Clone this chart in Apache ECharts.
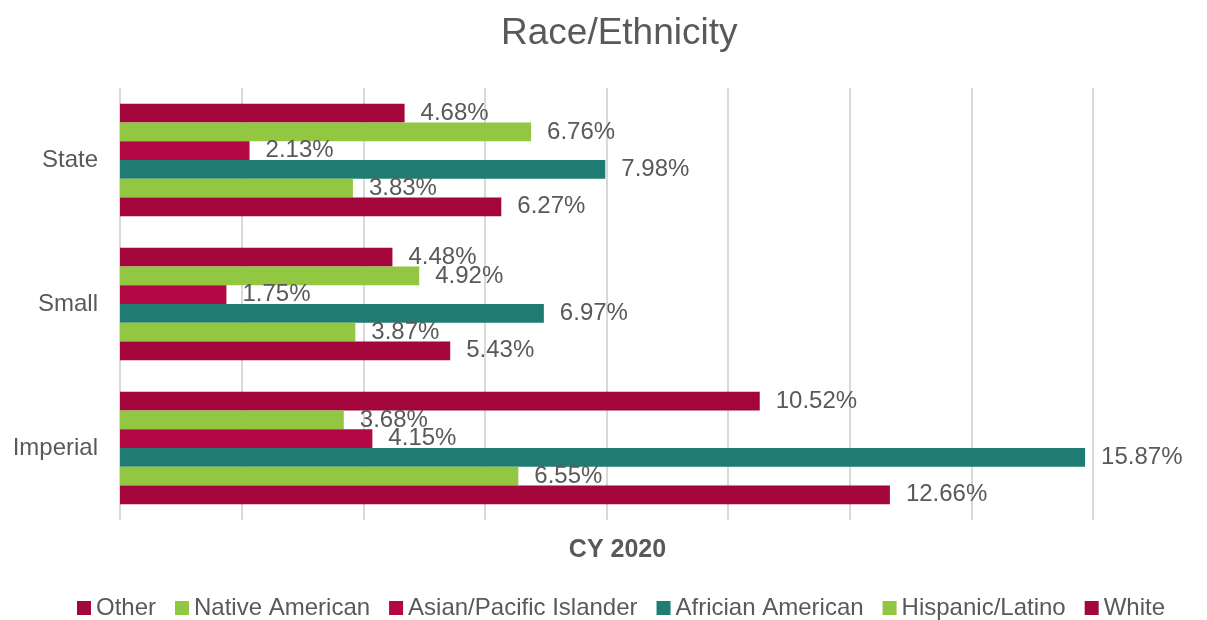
<!DOCTYPE html>
<html><head><meta charset="utf-8">
<script src="https://cdn.jsdelivr.net/npm/echarts@6/dist/echarts.min.js"></script>
<style>html,body{margin:0;padding:0;background:#fff}#c{width:1207px;height:620px}</style>
</head><body><div id="c"></div>
<script>
const categories = ['Imperial', 'Small', 'State'];
const seriesNames = ['Other', 'Native American', 'Asian/Pacific Islander', 'Africian American', 'Hispanic/Latino', 'White'];
const other = [10.52, 4.48, 4.68];
const native = [3.68, 4.92, 6.76];
const asian = [4.15, 1.75, 2.13];
const african = [15.87, 6.97, 7.98];
const hispanic = [6.55, 3.87, 3.83];
const white = [12.66, 5.43, 6.27];
const colors = ['#A3063B', '#92C741', '#B20843', '#1E7C73', '#92C741', '#A3063B'];
const values = [other, native, asian, african, hispanic, white];

const chart = echarts.init(document.getElementById('c'));
const font = 'Liberation Sans, Arial, sans-serif';
chart.setOption({
  animation: false,
  title: { text: 'Race/Ethnicity', left: 496, top: 10,
    textStyle: { fontFamily: font, fontSize: 37, fontWeight: 'normal', color: '#595959' } },
  legend: { data: seriesNames, top: 591, left: 72, itemWidth: 14, itemHeight: 14, itemGap: 19,
    icon: 'rect', textStyle: { fontFamily: font, fontSize: 24, color: '#595959', padding: [0,0,0,0] } },
  grid: { left: 120, right: 114, top: 88, bottom: 100 },
  xAxis: { type: 'value', min: 0, max: 16, interval: 2,
    name: 'CY 2020', nameLocation: 'middle', nameGap: 18,
    nameTextStyle: { fontFamily: font, fontSize: 25, fontWeight: 'bold', color: '#595959', padding: [0,0,0,22] },
    axisLabel: { show: false }, axisLine: { show: false }, axisTick: { show: false },
    splitLine: { show: true, lineStyle: { color: '#D9D9D9', width: 2 } } },
  yAxis: { type: 'category', data: categories,
    axisLine: { show: false }, axisTick: { show: false },
    axisLabel: { fontFamily: font, fontSize: 24, color: '#595959', margin: 22 } },
  series: seriesNames.map((n, i) => ({
    name: n, type: 'bar', data: values[i], barGap: '0%', barCategoryGap: '22%',
    itemStyle: { color: colors[i] },
    label: { show: true, position: 'right', distance: 16,
      formatter: p => p.value.toFixed(2) + '%',
      fontFamily: font, fontSize: 24, color: '#595959' }
  }))
});
</script></body></html>
